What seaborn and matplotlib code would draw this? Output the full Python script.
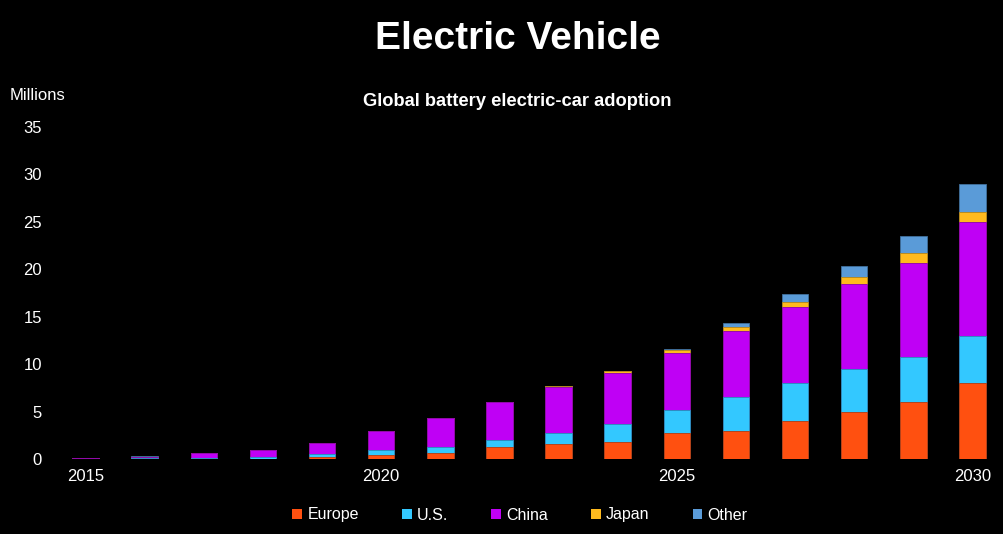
import numpy as np
import pandas as pd
import matplotlib
matplotlib.use("Agg")
import matplotlib.pyplot as plt
from matplotlib.patches import Patch
import seaborn as sns

# --- data (millions of battery electric cars) ---
years = [str(y) for y in range(2015, 2031)]
europe = [0.01, 0.02, 0.02, 0.05, 0.25, 0.4, 0.6, 1.25, 1.6, 1.8, 2.7, 3.0, 4.0, 5.0, 6.0, 8.0]
us = [0.02, 0.08, 0.08, 0.15, 0.3, 0.55, 0.7, 0.8, 1.1, 1.85, 2.5, 3.5, 4.0, 4.45, 4.8, 5.0]
china = [0.07, 0.12, 0.53, 0.8, 1.15, 2.0, 3.05, 3.95, 4.9, 5.45, 6.0, 7.0, 8.0, 9.05, 9.9, 12.0]
japan = [0, 0, 0, 0, 0, 0, 0, 0, 0.1, 0.15, 0.25, 0.4, 0.5, 0.7, 1.0, 1.0]
other = [0, 0.05, 0, 0, 0, 0, 0, 0, 0, 0.05, 0.15, 0.4, 0.85, 1.1, 1.8, 3.0]
tick_years = ["2015", "2020", "2025", "2030"]

regions = ["Europe", "U.S.", "China", "Japan", "Other"]
colors = ["#FF5010", "#33C8FF", "#BF00F5", "#FFBA1E", "#5A9BD8"]
edges = ["#B83A0C", "#2590B8", "#8A00B0", "#B88614", "#41709C"]

df = pd.DataFrame({"year": years, "Europe": europe, "U.S.": us,
                   "China": china, "Japan": japan, "Other": other})
cum = df[regions].cumsum(axis=1)

sns.set_style("dark")
plt.rcParams["font.family"] = ["Liberation Sans", "DejaVu Sans"]

fig = plt.figure(figsize=(10.04, 5.34), dpi=100, facecolor="black")
ax = fig.add_axes([56 / 1004, 75 / 534, 946 / 1004, 332 / 534])
ax.set_facecolor("black")

# stacked bars: draw cumulative totals from the top layer down
for reg, col, ec in reversed(list(zip(regions, colors, edges))):
    sns.barplot(x=df["year"], y=cum[reg], color=col, width=0.45,
                edgecolor=ec, linewidth=0.6, saturation=1, ax=ax)

ax.set_ylim(0, 35)
ax.set_xlim(-0.5, 15.5)
ax.set_yticks(range(0, 36, 5))
ax.set_xticks([years.index(t) for t in tick_years])
ax.set_xticklabels(tick_years)
ax.tick_params(axis="both", colors="white", labelsize=12, length=0)
ax.tick_params(axis="y", pad=10)
ax.tick_params(axis="x", pad=7)
ax.set_xlabel("")
ax.set_ylabel("")
ax.grid(False)
for s in ax.spines.values():
    s.set_visible(False)

fig.text(0.516, 1 - 39 / 534, "Electric Vehicle", color="white",
         fontsize=28, fontweight="bold", ha="center", va="center")
fig.text(0.515, 1 - 101 / 534, "Global battery electric-car adoption", color="white",
         fontsize=13.2, fontweight="bold", ha="center", va="center")
fig.text(10 / 1004, 1 - 95 / 534, "Millions", color="white",
         fontsize=12, ha="left", va="center")

handles = [Patch(facecolor=c, edgecolor="none", label=r) for r, c in zip(regions, colors)]
leg = fig.legend(handles=handles, loc="center", bbox_to_anchor=(0.518, 1 - 515 / 534),
                 ncol=5, frameon=False, fontsize=11.5, handlelength=0.6, handleheight=0.6,
                 handletextpad=0.35, columnspacing=2.68)
for t in leg.get_texts():
    t.set_color("white")

fig.savefig("out.png", dpi=100, facecolor="black")
